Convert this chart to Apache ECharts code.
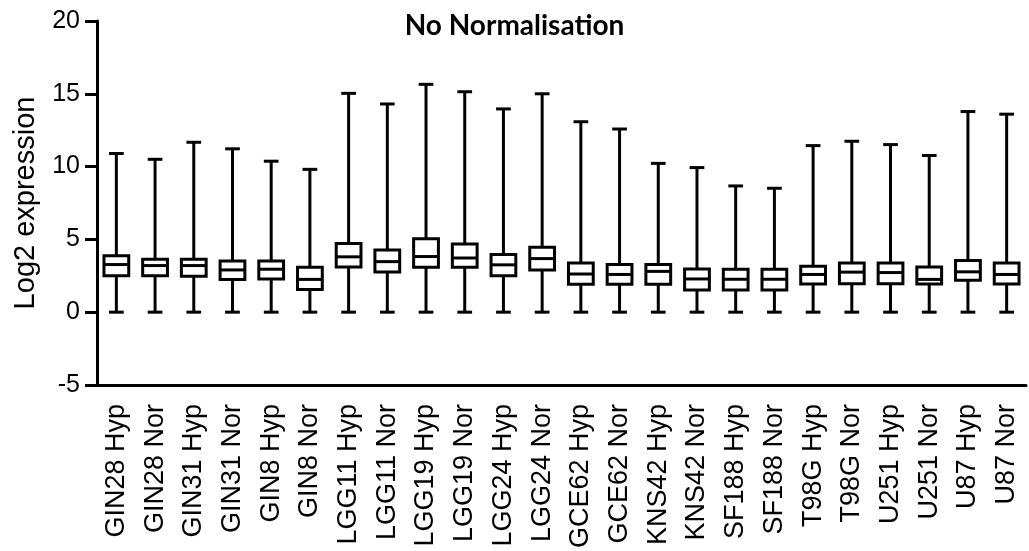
<!DOCTYPE html>
<html>
<head>
<meta charset="utf-8">
<title>No Normalisation</title>
<script src="https://cdn.jsdelivr.net/npm/echarts@6/dist/echarts.min.js"></script>
<style>
  html, body { margin: 0; padding: 0; background: #ffffff; }
  #chart { width: 1029px; height: 551px; }
</style>
</head>
<body>
<div id="chart"></div>
<script>
// Cell lines under hypoxic (Hyp) and normoxic (Nor) conditions
const categories = [
  'GIN28 Hyp', 'GIN28 Nor', 'GIN31 Hyp', 'GIN31 Nor', 'GIN8 Hyp', 'GIN8 Nor',
  'LGG11 Hyp', 'LGG11 Nor', 'LGG19 Hyp', 'LGG19 Nor', 'LGG24 Hyp', 'LGG24 Nor',
  'GCE62 Hyp', 'GCE62 Nor', 'KNS42 Hyp', 'KNS42 Nor', 'SF188 Hyp', 'SF188 Nor',
  'T98G Hyp', 'T98G Nor', 'U251 Hyp', 'U251 Nor', 'U87 Hyp', 'U87 Nor'
];

// Five-number summaries of log2 expression per sample
const minValues = [0, 0, 0, 0, 0, 0, 0, 0, 0, 0, 0, 0, 0, 0, 0, 0, 0, 0, 0, 0, 0, 0, 0, 0];
const q1Values = [2.50, 2.50, 2.47, 2.25, 2.27, 1.55, 3.11, 2.75, 3.09, 3.09, 2.50, 2.90,
                  1.92, 1.92, 1.92, 1.52, 1.52, 1.52, 1.94, 1.95, 1.95, 1.93, 2.20, 1.93];
const medianValues = [3.27, 3.20, 3.20, 2.90, 2.95, 2.25, 3.80, 3.47, 3.82, 3.72, 3.25, 3.68,
                      2.62, 2.59, 2.80, 2.28, 2.26, 2.26, 2.59, 2.75, 2.72, 2.25, 2.77, 2.59];
const q3Values = [3.88, 3.63, 3.63, 3.52, 3.52, 3.09, 4.72, 4.27, 5.04, 4.68, 3.96, 4.46,
                  3.38, 3.27, 3.27, 2.97, 2.95, 2.95, 3.15, 3.38, 3.38, 3.11, 3.54, 3.38];
const maxValues = [10.90, 10.50, 11.67, 11.22, 10.37, 9.81, 15.03, 14.30, 15.65, 15.14, 13.96, 15.00,
                   13.08, 12.58, 10.22, 9.93, 8.67, 8.51, 11.44, 11.74, 11.51, 10.76, 13.78, 13.60];

const yTicks = [-5, 0, 5, 10, 15, 20];

const rows = categories.map((c, i) =>
  [i, minValues[i], q1Values[i], medianValues[i], q3Values[i], maxValues[i]]);

const axisFont = 'Liberation Sans, Arial, Helvetica, sans-serif';
const stroke = { stroke: '#000', lineWidth: 3, fill: null };

// Box with whiskers, caps and median line, positioned through the axis scales
function renderBox(params, api) {
  const i = api.value(0);
  const band = api.size([1, 0])[0];
  const halfBox = band * 0.32;
  const halfCap = band * 0.19;
  const pMin = api.coord([i, api.value(1)]);
  const pQ1 = api.coord([i, api.value(2)]);
  const pMed = api.coord([i, api.value(3)]);
  const pQ3 = api.coord([i, api.value(4)]);
  const pMax = api.coord([i, api.value(5)]);
  const x = pMed[0];
  const line = (x1, y1, x2, y2) => ({
    type: 'line', shape: { x1, y1, x2, y2 }, style: stroke
  });
  return {
    type: 'group',
    children: [
      line(x, pMax[1], x, pQ3[1]),
      line(x, pQ1[1], x, pMin[1]),
      line(x - halfCap, pMax[1], x + halfCap, pMax[1]),
      line(x - halfCap, pMin[1], x + halfCap, pMin[1]),
      {
        type: 'rect',
        shape: { x: x - halfBox, y: pQ3[1], width: halfBox * 2, height: pQ1[1] - pQ3[1] },
        style: { stroke: '#000', lineWidth: 3, fill: '#fff' }
      },
      line(x - halfBox, pMed[1], x + halfBox, pMed[1])
    ]
  };
}

const chart = echarts.init(document.getElementById('chart'), null, { renderer: 'canvas' });
chart.setOption({
  animation: false,
  backgroundColor: '#ffffff',
  title: {
    text: 'No Normalisation',
    left: 'center',
    top: 7,
    textStyle: { fontFamily: 'Lato, sans-serif', fontWeight: 'bold', fontSize: 28, color: '#000' }
  },
  grid: { left: 97, right: 3, top: 21, bottom: 163, containLabel: false },
  xAxis: {
    type: 'category',
    data: categories,
    boundaryGap: true,
    axisLine: { onZero: false, lineStyle: { color: '#000', width: 3 } },
    axisTick: { alignWithLabel: true, length: 12, lineStyle: { color: '#000', width: 3 } },
    axisLabel: { rotate: 90, margin: 19, interval: 0, color: '#000', fontFamily: axisFont, fontSize: 27 },
    splitLine: { show: false }
  },
  yAxis: {
    type: 'value',
    min: yTicks[0],
    max: yTicks[yTicks.length - 1],
    interval: yTicks[1] - yTicks[0],
    name: 'Log2 expression',
    nameLocation: 'middle',
    nameGap: 57,
    nameTextStyle: { color: '#000', fontFamily: axisFont, fontSize: 29 },
    axisLine: { show: true, lineStyle: { color: '#000', width: 3 } },
    axisTick: { show: true, length: 12, lineStyle: { color: '#000', width: 3 } },
    axisLabel: { margin: 17, color: '#000', fontFamily: axisFont, fontSize: 25 },
    splitLine: { show: false }
  },
  series: [{
    type: 'custom',
    renderItem: renderBox,
    data: rows,
    encode: { x: 0, y: [1, 2, 3, 4, 5] },
    clip: false
  }]
});
</script>
</body>
</html>
